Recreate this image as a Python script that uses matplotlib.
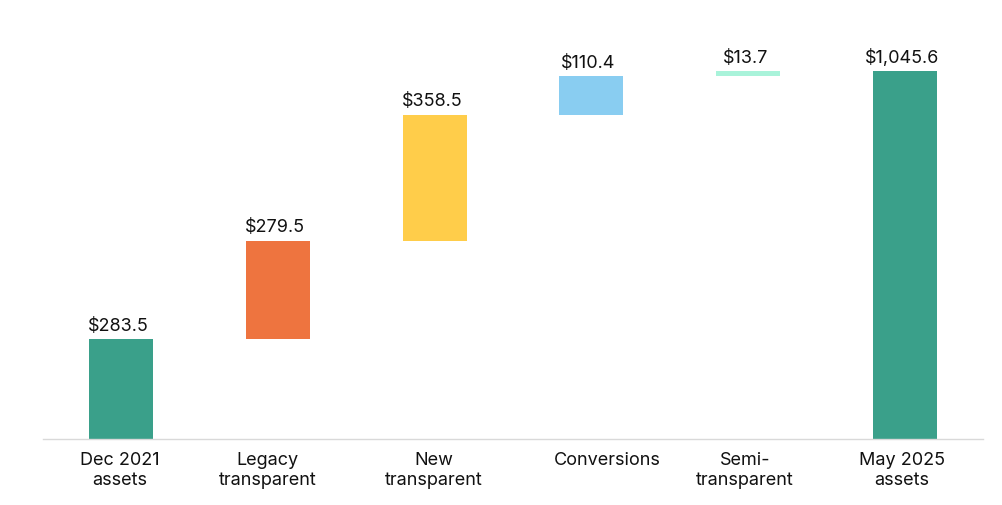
import matplotlib
matplotlib.use("Agg")
import matplotlib.pyplot as plt

categories = ["Dec 2021\nassets", "Legacy\ntransparent", "New\ntransparent",
              "Conversions", "Semi-\ntransparent", "May 2025\nassets"]
values = [283.5, 279.5, 358.5, 110.4, 13.7, 1045.6]
is_total = [True, False, False, False, False, True]
labels = ["$283.5", "$279.5", "$358.5", "$110.4", "$13.7", "$1,045.6"]
colors = ["#3aa08a", "#ee743f", "#ffcd4a", "#89cdf1", "#a9f3da", "#3aa08a"]

# horizontal nudges of category labels (pixels), as in the original layout
label_nudge_px = [-1.5, -10.5, -0.5, 15.5, -3, -3]

plt.rcParams['font.family'] = ['Inter', 'DejaVu Sans']

fig = plt.figure(figsize=(10.02, 5.06), dpi=100)
ax = fig.add_axes([43/1002, 66/506, 940/1002, 422/506])

bottoms = []
running = 0.0
for v, t in zip(values, is_total):
    if t:
        bottoms.append(0.0)
        running = v
    else:
        bottoms.append(running)
        running += v

x = list(range(len(categories)))
bars = ax.bar(x, values, bottom=bottoms, width=0.41, color=colors, zorder=2)
for xi, b, v, lab in zip(x, bottoms, values, labels):
    ax.annotate(lab, (xi, b + v), xytext=(-2, 4), textcoords="offset points",
                ha="center", va="bottom", fontsize=13, color="#111111")

ax.set_xlim(-0.5, 5.5)
ax.set_ylim(0, 1200)
ax.set_xticks(x)
ax.set_xticklabels([])
ax.tick_params(axis="x", length=0)
for xi, cat, dx in zip(x, categories, label_nudge_px):
    ax.annotate(cat, (xi, 0), xycoords=("data", "axes fraction"),
                xytext=(dx * 0.72, -9), textcoords="offset points",
                ha="center", va="top", multialignment="center",
                fontsize=13, color="#111111", linespacing=1.2,
                annotation_clip=False)
ax.set_yticks([])
for s in ["top", "right", "left"]:
    ax.spines[s].set_visible(False)
ax.spines["bottom"].set_color("#d9d9d9")
ax.spines["bottom"].set_linewidth(1)

fig.savefig("out.png", dpi=100, facecolor="white")
